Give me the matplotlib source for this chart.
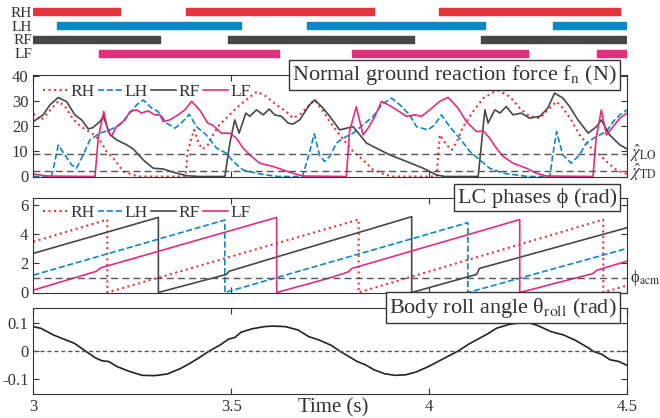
import numpy as np
import matplotlib
matplotlib.use("Agg")
import matplotlib.pyplot as plt

plt.rcParams['font.family'] = ['Liberation Serif', 'DejaVu Serif']
plt.rcParams['mathtext.fontset'] = 'stix'
plt.rcParams['text.color'] = '#333333'
plt.rcParams['axes.edgecolor'] = '#333333'
plt.rcParams['xtick.color'] = '#333333'
plt.rcParams['ytick.color'] = '#333333'

legs = ['RH', 'LH', 'RF', 'LF']
colors = {'RH': '#e4343c', 'LH': '#0a88c9', 'RF': '#474747', 'LF': '#e52d7c'}
styles = {'RH': ':', 'LH': '--', 'RF': '-', 'LF': '-'}

# stance phases (s)
stance = {
    'RH': [(3.0, 3.220), (3.385, 3.862), (4.026, 4.483)],
    'LH': [(3.060, 3.525), (3.691, 4.141), (4.312, 4.5)],
    'RF': [(3.0, 3.319), (3.491, 3.962), (4.132, 4.5)],
    'LF': [(3.165, 3.620), (3.806, 4.251), (4.423, 4.5)],
}

# normal ground reaction force (N)
t_rh = [3.0, 3.02, 3.04, 3.063, 3.08, 3.1, 3.12, 3.15, 3.168, 3.185, 3.206, 3.227, 3.253, 3.27,
        3.385, 3.39, 3.406, 3.42, 3.428, 3.441, 3.454, 3.47, 3.496, 3.513, 3.538, 3.565, 3.589,
        3.614, 3.639, 3.656, 3.673, 3.69, 3.71, 3.73, 3.749, 3.774, 3.808, 3.833, 3.859, 3.892,
        3.91, 4.019, 4.027, 4.044, 4.057, 4.07, 4.086, 4.111, 4.137, 4.162, 4.174, 4.204, 4.229,
        4.254, 4.28, 4.305, 4.322, 4.338, 4.359, 4.38, 4.405, 4.422, 4.448, 4.473, 4.494, 4.5]
f_rh = [25, 22.5, 26, 30, 28, 23, 20, 17, 14.6, 10, 6.6, 2, 0.6, 0,
        0, 10, 18.6, 12.6, 10.9, 12.6, 16.6, 20.6, 24.6, 27.3, 30.6, 33.9, 31.9,
        28.6, 25.9, 23.3, 24.6, 27.3, 30.5, 26.6, 21.9, 16.6, 10, 6.6, 2.6, 0.6,
        0, 0, 16.6, 12.6, 10.6, 13.9, 19.9, 25.9, 31.3, 33.6, 34.3, 31.9, 27.3,
        24, 23.3, 27.3, 29.9, 27.3, 22.6, 16.6, 11.9, 10, 6, 2.6, 1.3, 1.0]

t_lh = [3.0, 3.045, 3.05, 3.063, 3.08, 3.097, 3.109, 3.126, 3.143, 3.168, 3.194, 3.219, 3.244,
        3.261, 3.278, 3.299, 3.315, 3.337, 3.358, 3.374, 3.394, 3.412, 3.437, 3.463, 3.488,
        3.505, 3.53, 3.564, 3.589, 3.62, 3.68, 3.695, 3.71, 3.723, 3.736, 3.749, 3.766, 3.783,
        3.808, 3.833, 3.859, 3.88, 3.905, 3.926, 3.951, 3.968, 3.997, 4.014, 4.031, 4.052,
        4.077, 4.103, 4.128, 4.153, 4.187, 4.221, 4.25, 4.305, 4.312, 4.322, 4.338, 4.359,
        4.38, 4.397, 4.422, 4.448, 4.465, 4.482, 4.5]
f_lh = [0, 0, 2.6, 12.5, 8.6, 4.6, 3.3, 8.6, 14.6, 17.3, 18.6, 20.6, 25.3,
        28.6, 30.5, 27.3, 25.9, 21.3, 19.3, 21.3, 24.8, 19.9, 16.6, 11.3, 9.3,
        6, 2.6, 1.3, 0.6, 0, 0, 8, 17, 8.6, 6, 8, 13.3, 15.3,
        17.3, 20.6, 24, 28.6, 31.3, 28.6, 24.6, 19.9, 18.6, 20.6, 24.6, 19.9,
        15.3, 10, 6.6, 3.3, 1.3, 0.6, 0, 0, 8, 17.9, 8.6, 5.3,
        8.6, 13.3, 15.9, 17.9, 21.9, 24.6, 26.6]

t_rf = [3.0, 3.025, 3.042, 3.063, 3.084, 3.105, 3.122, 3.139, 3.151, 3.168, 3.177, 3.194, 3.211,
        3.236, 3.253, 3.278, 3.303, 3.328, 3.354, 3.387, 3.42, 3.484, 3.497, 3.509, 3.52, 3.537,
        3.547, 3.564, 3.581, 3.596, 3.61, 3.627, 3.644, 3.656, 3.673, 3.698, 3.711, 3.732, 3.749,
        3.774, 3.808, 3.825, 3.842, 3.867, 3.901, 3.943, 3.985, 4.019, 4.04, 4.124, 4.141, 4.149,
        4.166, 4.179, 4.195, 4.212, 4.233, 4.254, 4.28, 4.3, 4.317, 4.338, 4.355, 4.376, 4.402,
        4.423, 4.435, 4.456, 4.482, 4.5]
f_rf = [21.9, 24.6, 28.6, 31.5, 29.9, 24.6, 22.6, 19, 19.5, 21.9, 23.9, 16.6, 14.6,
        12.6, 10.9, 6.6, 3.3, 3.0, 1.7, 0.3, 0, 0, 13.7, 22.6, 17.3, 25.3,
        24, 26.6, 24.6, 26.9, 24.6, 24, 21.3, 20.9, 22.6, 28.6, 30.6, 27.3, 24,
        18.6, 19.9, 16.6, 13.3, 11.3, 8.6, 6, 3.3, 0.6, 0, 0, 26.6, 21.3,
        26.6, 25.3, 27.9, 24.6, 25.3, 23.3, 24, 27.3, 33.3, 31.3, 27.9, 22.6, 17.3,
        19.9, 22.6, 16.6, 12.6, 11]

t_lf = [3.0, 3.034, 3.156, 3.164, 3.178, 3.189, 3.198, 3.21, 3.232, 3.244, 3.261, 3.273, 3.29,
        3.307, 3.32, 3.328, 3.345, 3.366, 3.383, 3.4, 3.42, 3.441, 3.454, 3.475, 3.496, 3.513,
        3.53, 3.547, 3.572, 3.606, 3.631, 3.656, 3.681, 3.791, 3.799, 3.816, 3.833, 3.846,
        3.863, 3.88, 3.897, 3.918, 3.943, 3.964, 3.981, 4.002, 4.027, 4.048, 4.073, 4.094,
        4.12, 4.137, 4.153, 4.17, 4.187, 4.212, 4.246, 4.271, 4.296, 4.414, 4.422, 4.435,
        4.448, 4.465, 4.482, 4.5]
f_lf = [1, 0.2, 0, 15.3, 26, 17.9, 16.2, 19.9, 22.6, 25.9, 26.6, 25.3, 26.2,
        24.6, 24.6, 21.9, 22.6, 24.6, 26.6, 30, 26.6, 21.3, 20.4, 17.3, 17.3, 15.3,
        11.3, 8.6, 5.3, 4, 2.6, 1.3, 0.2, 0, 17.9, 27.9, 16.6, 19.3,
        24, 30, 28.6, 26.6, 24, 24.6, 24, 26.6, 30, 31.6, 27.3, 21.9,
        17.9, 18.2, 15.3, 11.3, 8, 5.3, 3.3, 1.3, 0.2, 0, 15.3, 26.5,
        16.6, 19.9, 23.3, 25.3]

chi_lo = 9.0
chi_td = 2.3

# LC phases (rad)
tp_rh = [3.0, 3.187, 3.187, 3.822, 3.822, 4.44, 4.44, 4.5]
p_rh = [3.48, 5.0, 0, 5.0, 0, 5.0, 0, 0.48]
tp_lh = [3.0, 3.484, 3.484, 4.098, 4.098, 4.5]
p_lh = [1.19, 4.97, 0, 4.79, 0, 3.02]
tp_rf = [3.0, 3.316, 3.316, 3.488, 3.495, 3.956, 3.956, 4.12, 4.127, 4.5]
p_rf = [2.68, 5.15, 0, 1.24, 1.46, 5.2, 0, 1.24, 1.65, 4.44]
tp_lf = [3.0, 3.16, 3.17, 3.615, 3.615, 3.749, 3.795, 3.805, 4.229, 4.229, 4.414, 4.424, 4.5]
p_lf = [0.16, 1.46, 1.69, 5.15, 0, 1.0, 1.4, 1.65, 5.0, 0, 1.3, 1.53, 2.15]
phi_acm = 1.0

# body roll angle (rad)
t_roll = [3.0, 3.019, 3.051, 3.072, 3.104, 3.131, 3.158, 3.174, 3.19, 3.211, 3.243, 3.275, 3.307,
          3.339, 3.371, 3.397, 3.424, 3.445, 3.472, 3.493, 3.509, 3.525, 3.552, 3.584, 3.605,
          3.637, 3.669, 3.696, 3.722, 3.754, 3.773, 3.797, 3.818, 3.839, 3.861, 3.887, 3.914,
          3.941, 3.967, 3.999, 4.031, 4.058, 4.074, 4.1, 4.127, 4.148, 4.17, 4.202, 4.234,
          4.255, 4.276, 4.308, 4.34, 4.372, 4.404, 4.415, 4.436, 4.457, 4.479, 4.5]
roll = [0.087, 0.081, 0.057, 0.045, 0.027, 0.0, -0.026, -0.036, -0.038, -0.056, -0.074, -0.088,
        -0.089, -0.083, -0.064, -0.044, -0.020, 0.0, 0.021, 0.042, 0.048, 0.067, 0.079, 0.087,
        0.089, 0.087, 0.075, 0.051, 0.039, 0.019, 0.0, -0.020, -0.038, -0.05, -0.068, -0.082,
        -0.088, -0.086, -0.076, -0.056, -0.032, -0.012, 0.0, 0.024, 0.045, 0.061, 0.081,
        0.095, 0.102, 0.1, 0.09, 0.069, 0.057, 0.036, 0.0095, -0.002, -0.012, -0.032,
        -0.038, -0.052]

force = {'RH': (t_rh, f_rh), 'LH': (t_lh, f_lh), 'RF': (t_rf, f_rf), 'LF': (t_lf, f_lf)}
phase = {'RH': (tp_rh, p_rh), 'LH': (tp_lh, p_lh), 'RF': (tp_rf, p_rf), 'LF': (tp_lf, p_lf)}

W, H = 660, 418
fig = plt.figure(figsize=(6.6, 4.18), dpi=100)


def box(top, bottom, left=33.3, right=627):
    return [left / W, 1 - bottom / H, (right - left) / W, (bottom - top) / H]


ax_g = fig.add_axes(box(5, 60))
ax_f = fig.add_axes(box(75, 176.5))
ax_p = fig.add_axes(box(197.7, 292.5))
ax_r = fig.add_axes(box(307.7, 394))

# gait diagram
for i, leg in enumerate(legs):
    row = 3 - i
    spans = [(a, b - a) for a, b in stance[leg]]
    ax_g.broken_barh(spans, (row - 0.25, 0.5), color=colors[leg])
ax_g.set_xlim(3, 4.5)
ax_g.set_ylim(-0.5, 3.5)
ax_g.set_yticks([3, 2, 1, 0])
ax_g.set_yticklabels(legs, fontsize=11)
ax_g.tick_params(length=0, pad=1)
ax_g.set_xticks([])
for s in ax_g.spines.values():
    s.set_visible(False)

lw = 1.2
leg_kw = dict(loc='upper left', ncol=4, frameon=False, fontsize=12.5, handlelength=1.4,
              handletextpad=0.15, columnspacing=0.2, borderaxespad=0)
box_kw = dict(fc='white', ec='#333333', lw=1, boxstyle='square,pad=0.15')

for ax in (ax_f, ax_p, ax_r):
    ax.set_xlim(3, 4.5)
    ax.set_xticks([3, 3.5, 4, 4.5])
    ax.tick_params(direction='in', top=True, right=True, labelsize=12, length=4, width=0.8)

# force
for leg in legs:
    t, f = force[leg]
    ax_f.plot(t, f, styles[leg], color=colors[leg], lw=lw if leg != 'RH' else 1.5, label=leg)
for v in (chi_lo, chi_td):
    ax_f.axhline(v, color='#555555', ls=(0, (5, 3)), lw=1)
ax_f.set_ylim(0, 40.5)
ax_f.set_yticks([0, 10, 20, 30, 40])
ax_f.set_xticklabels([])
ax_f.legend(bbox_to_anchor=(0.005, 0.98), **leg_kw)
ax_f.text(1.005, chi_lo + 0.3, r'$\hat{\chi}_{\rm LO}$', transform=ax_f.get_yaxis_transform(),
          va='center', ha='left', fontsize=12)
ax_f.text(1.005, chi_td - 0.8, r'$\hat{\chi}_{\rm TD}$', transform=ax_f.get_yaxis_transform(),
          va='center', ha='left', fontsize=12)
ax_f.text(0.983, 1.0, r'Normal ground reaction force f$_{\rm n}$ (N)', transform=ax_f.transAxes,
          ha='right', va='center', fontsize=16, zorder=10, bbox=box_kw)

# phases
for leg in legs:
    t, p = phase[leg]
    ax_p.plot(t, p, styles[leg], color=colors[leg], lw=lw if leg != 'RH' else 1.5, label=leg)
ax_p.axhline(phi_acm, color='#555555', ls=(0, (5, 3)), lw=1)
ax_p.set_ylim(0, 6.5)
ax_p.set_yticks([0, 2, 4, 6])
ax_p.set_xticklabels([])
ax_p.legend(bbox_to_anchor=(0.005, 1.0), **leg_kw)
ax_p.text(1.005, phi_acm, '\u03d5$_{\\rm acm}$', transform=ax_p.get_yaxis_transform(),
          va='center', ha='left', fontsize=12)
ax_p.text(0.983, 1.0, 'LC phases \u03d5 (rad)', transform=ax_p.transAxes,
          ha='right', va='center', fontsize=16, zorder=10, bbox=box_kw)

# roll
ax_r.plot(t_roll, roll, '-', color='#222222', lw=lw)
ax_r.axhline(0, color='#555555', ls=(0, (3, 2)), lw=1)
ax_r.set_ylim(-0.155, 0.155)
ax_r.set_yticks([-0.1, 0, 0.1])
ax_r.set_yticklabels(['-0.1', '0', '0.1'])
ax_r.set_xticklabels(['3', '3.5', '4', '4.5'])
ax_r.text(0.983, 1.0, 'Body roll angle \u03b8$_{\\rm roll}$ (rad)', transform=ax_r.transAxes,
          ha='right', va='center', fontsize=16, zorder=10, bbox=box_kw)
fig.text(333 / W, 1 - 398 / H, 'Time (s)', ha='center', va='top', fontsize=15)

fig.savefig('out.png', dpi=100)
